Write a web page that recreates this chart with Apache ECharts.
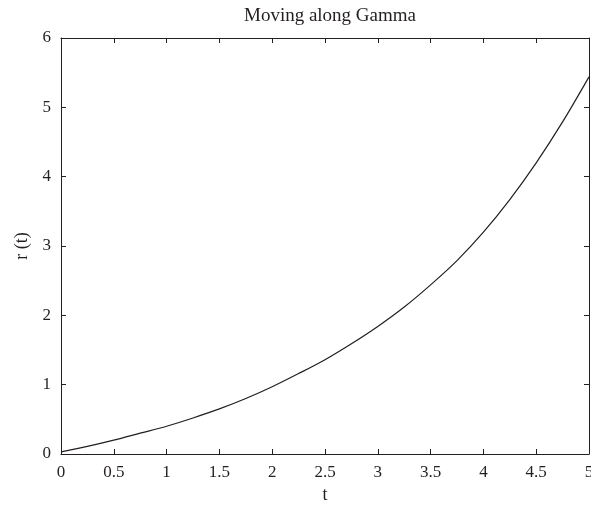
<!DOCTYPE html>
<html>
<head>
<meta charset="utf-8">
<script src="https://cdn.jsdelivr.net/npm/echarts@6/dist/echarts.min.js"></script>
<style>
  html, body { margin: 0; padding: 0; background: #fff; }
  #chart { width: 591px; height: 509px; }
</style>
</head>
<body>
<div id="chart"></div>
<script>
// values
var tValues = [0, 0.25, 0.5, 0.75, 1, 1.25, 1.5, 1.75, 2, 2.25, 2.5, 2.75, 3, 3.25, 3.5, 3.75, 4, 4.25, 4.5, 4.75, 5];
var rValues = [0.03, 0.11, 0.20, 0.30, 0.40, 0.52, 0.65, 0.80, 0.97, 1.16, 1.36, 1.59, 1.84, 2.12, 2.44, 2.79, 3.20, 3.67, 4.20, 4.79, 5.44];

var font = 'Liberation Serif';
var ink = '#231f20';

var chart = echarts.init(document.getElementById('chart'));

function frameAxis(extra) {
    return Object.assign({
        axisLine: { show: true, onZero: false, lineStyle: { color: ink, width: 1 } },
        axisTick: { show: true, inside: true, length: 5, lineStyle: { color: ink } },
        splitLine: { show: false }
    }, extra);
}

chart.setOption({
    animation: false,
    title: {
        text: 'Moving along Gamma',
        left: 325, top: 2, textAlign: 'center',
        textStyle: { fontFamily: font, fontWeight: 'normal', fontSize: 19, color: ink }
    },
    grid: { left: 61, right: 2, top: 38, bottom: 55, outerBoundsMode: 'none' },
    xAxis: [
        frameAxis({
            type: 'value', min: 0, max: 5, interval: 0.5,
            name: 't', nameLocation: 'middle', nameGap: 30,
            nameTextStyle: { fontFamily: font, fontSize: 18, color: ink },
            axisLabel: { fontFamily: font, fontSize: 17, color: ink, margin: 10 }
        }),
        frameAxis({
            type: 'value', position: 'top', min: 0, max: 5, interval: 0.5,
            axisLabel: { show: false }
        })
    ],
    yAxis: [
        frameAxis({
            type: 'value', min: 0, max: 6, interval: 1,
            name: 'r (t)', nameLocation: 'middle', nameGap: 30,
            nameTextStyle: { fontFamily: font, fontSize: 18, color: ink },
            axisLabel: { fontFamily: font, fontSize: 17, color: ink, margin: 10 }
        }),
        frameAxis({
            type: 'value', position: 'right', min: 0, max: 6, interval: 1,
            axisLabel: { show: false }
        })
    ],
    series: [{
        type: 'line',
        data: tValues.map(function (t, i) { return [t, rValues[i]]; }),
        smooth: 0.3,
        showSymbol: false,
        lineStyle: { color: ink, width: 1.2 }
    }]
});
</script>
</body>
</html>
